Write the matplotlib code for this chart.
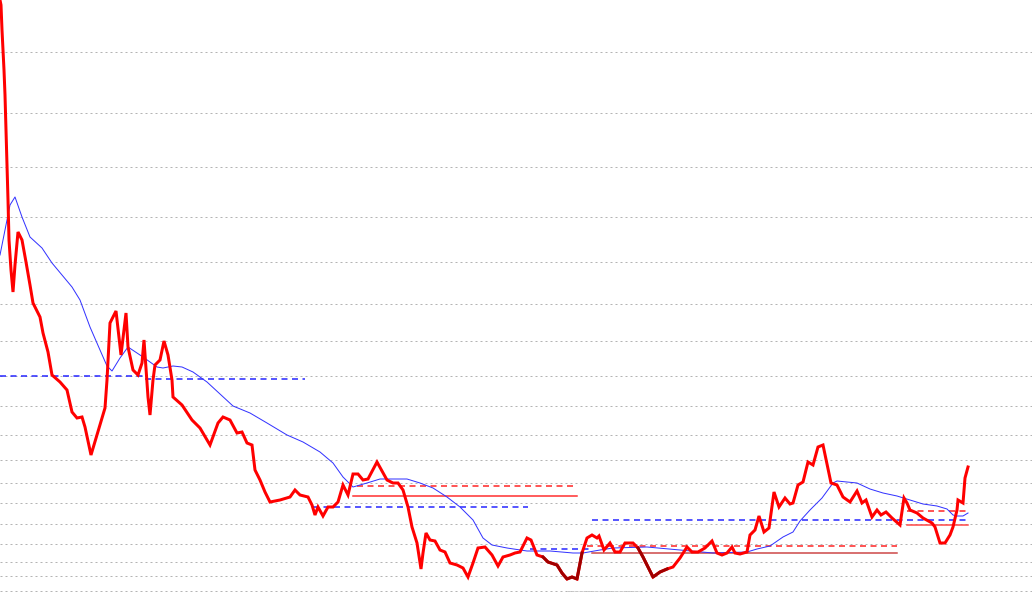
import numpy as np
import matplotlib
matplotlib.use("Agg")
import matplotlib.pyplot as plt

# price trace (x position, level, top = 0)
price_x = [0, 1, 2, 3, 4, 5, 6, 7, 8, 9, 11, 13, 15, 18, 22, 26, 30, 33, 40, 43, 48, 52, 60, 67, 72, 77,
           82, 85, 91, 97, 105, 107, 110, 116, 121, 126, 128, 133, 138, 142, 144, 148, 150, 153, 155, 160,
           164, 168, 172, 173, 182, 192, 200, 210, 218, 223, 230, 237, 242, 247, 252, 255, 260, 265, 270,
           280, 290, 295, 300, 308, 312, 315, 318, 323, 328, 333, 338, 343, 348, 353, 358, 363, 368, 377,
           387, 393, 398, 403, 408, 412, 417, 421, 423, 426, 430, 435, 440, 445, 450, 457, 463, 468, 473,
           478, 485, 492, 498, 503, 510, 515, 520, 527, 531, 537, 543, 548, 557, 562, 567, 572, 577, 582,
           587, 592, 597, 599, 604, 610, 615, 620, 625, 633, 638, 643, 648, 653, 660, 667, 673, 680, 687,
           692, 698, 705, 712, 717, 722, 727, 732, 735, 740, 747, 750, 755, 759, 764, 769, 774, 779, 785,
           790, 793, 798, 803, 808, 813, 818, 823, 831, 837, 843, 850, 857, 862, 866, 872, 877, 881, 886,
           892, 900, 904, 907, 910, 917, 923, 932, 935, 940, 945, 950, 953, 957, 958, 963, 965, 968]
price_y = [0, 5, 30, 50, 70, 95, 130, 165, 200, 240, 270, 292, 265, 232, 240, 262, 285, 303, 317, 333,
           352, 375, 382, 390, 412, 418, 417, 427, 455, 435, 408, 380, 323, 311, 355, 313, 347, 370, 375,
           363, 340, 397, 415, 380, 365, 360, 341, 355, 380, 397, 405, 420, 428, 445, 423, 417, 420, 433,
           432, 443, 445, 470, 480, 492, 502, 500, 497, 490, 495, 497, 505, 515, 507, 516, 507, 507, 502,
           485, 495, 474, 474, 480, 479, 462, 480, 483, 483, 490, 507, 527, 543, 569, 553, 533, 540, 541,
           550, 552, 563, 565, 568, 577, 563, 548, 547, 555, 566, 557, 555, 553, 552, 538, 540, 555, 557,
           562, 565, 573, 579, 577, 579, 553, 538, 535, 538, 536, 550, 543, 552, 552, 543, 543, 548, 557,
           567, 577, 572, 569, 567, 558, 547, 552, 552, 548, 541, 553, 555, 553, 547, 553, 554, 552, 535,
           530, 516, 532, 528, 492, 507, 498, 504, 503, 485, 482, 462, 465, 447, 445, 483, 485, 497, 502,
           491, 503, 500, 517, 510, 515, 512, 518, 525, 498, 503, 510, 513, 518, 523, 527, 543, 543, 535,
           527, 510, 500, 503, 478, 467]

# moving average
ma_x = [0, 5, 10, 15, 22, 30, 42, 52, 62, 72, 80, 90, 100, 107, 112, 120, 128, 143, 157, 163, 173, 182,
        193, 207, 233, 250, 267, 287, 303, 320, 333, 343, 353, 367, 380, 407, 420, 433, 447, 460, 473,
        483, 492, 507, 527, 550, 573, 583, 600, 613, 647, 680, 713, 747, 757, 770, 783, 793, 800, 810,
        822, 833, 837, 847, 857, 870, 883, 897, 910, 923, 937, 947, 953, 957, 963, 968]
ma_y = [255, 230, 205, 197, 217, 237, 248, 263, 275, 287, 300, 327, 350, 366, 371, 358, 347, 357, 367,
        368, 366, 367, 372, 382, 406, 413, 423, 435, 442, 452, 463, 477, 487, 483, 479, 479, 483, 488,
        497, 507, 520, 538, 545, 548, 551, 551, 553, 553, 550, 548, 547, 550, 553, 552, 549, 546, 537,
        532, 521, 510, 498, 483, 481, 482, 483, 489, 493, 496, 500, 504, 506, 509, 515, 516, 516, 513]

# darker stretches of the price trace
dark_spans = [(543, 582), (638, 667)]

# horizontal levels: start, end, level
blue_dashed = [(0, 145, 376), (145, 305, 379), (313, 528, 507), (530, 590, 549), (592, 968, 520)]
red_dashed = [(357, 577, 486), (587, 897, 546), (907, 968, 511)]
red_solid = [(353, 577, 496, "#ff2a2a"), (592, 897, 553, "#cc4444"), (907, 968, 525, "#ff4444")]
grey_dashed = [(567, 640, 591)]

grid_levels = [52, 113, 167, 217, 262, 304, 341, 376, 406, 435, 460, 483, 503, 524, 544, 562, 576, 591]

fig = plt.figure(figsize=(1032 / 72, 595 / 72), dpi=72)
ax = fig.add_axes([0, 0, 1, 1])
ax.set_xlim(0, 1032)
ax.set_ylim(595, 0)
ax.axis("off")

for g in grid_levels:
    ax.axhline(g, color="#b4b4b4", lw=1, linestyle=(0, (2, 3)), zorder=0)

for x0, x1, y in grey_dashed:
    ax.plot([x0, x1], [y, y], color="#c8c8c8", lw=1, linestyle=(0, (3, 1)), zorder=1)
for x0, x1, y in blue_dashed:
    ax.plot([x0, x1], [y, y], color="#2222ff", lw=1.5, linestyle=(0, (4, 3)), zorder=2)
for x0, x1, y in red_dashed:
    ax.plot([x0, x1], [y, y], color="#ff2020", lw=1.5, linestyle=(0, (4, 3)), zorder=2)
for x0, x1, y, c in red_solid:
    ax.plot([x0, x1], [y, y], color=c, lw=1.5, zorder=2)

ax.plot(ma_x, ma_y, color="#3333ff", lw=1, zorder=3)

px = np.array(price_x)
py = np.array(price_y)
ax.plot(px, py, color="#ff0000", lw=3, solid_joinstyle="miter", zorder=4)
for a, b in dark_spans:
    m = (px >= a) & (px <= b)
    ax.plot(px[m], py[m], color="#a00000", lw=3, zorder=5)

fig.savefig("out.png", dpi=72, facecolor="white")
